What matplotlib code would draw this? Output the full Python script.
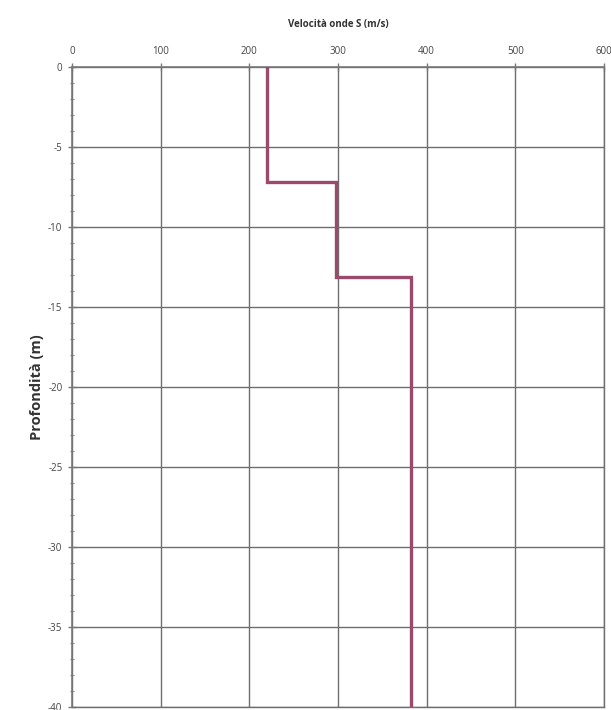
import matplotlib
matplotlib.use('Agg')
import matplotlib.pyplot as plt
from matplotlib.ticker import MultipleLocator

# profilo Vs a gradini
vs = [220, 220, 298, 298, 382, 382]
depth = [0, -7.2, -7.2, -13.1, -13.1, -40]

x_ticks = [0, 100, 200, 300, 400, 500, 600]
y_ticks = [0, -5, -10, -15, -20, -25, -30, -35, -40]

plt.rcParams['font.family'] = ['Open Sans', 'DejaVu Sans']

fig = plt.figure(figsize=(6.11, 7.10), dpi=100)
ax = fig.add_axes([0.118, 0.0042, 0.8705, 0.9014])

ax.plot(vs, depth, color='#9c4a6c', linewidth=2.4, solid_joinstyle='miter', zorder=3)

ax.set_xlim(0, 600)
ax.set_ylim(-40, 0)
ax.set_xticks(x_ticks)
ax.set_yticks(y_ticks)
ax.yaxis.set_minor_locator(MultipleLocator(1))
ax.xaxis.tick_top()
ax.xaxis.set_label_position('top')
ax.set_xticklabels([str(v) for v in x_ticks])
ax.set_yticklabels([str(v) for v in y_ticks])
ax.tick_params(axis='both', which='major', direction='inout', length=6, width=1,
               color='#777777', labelsize=7, labelcolor='#444444', pad=4)
ax.tick_params(axis='y', which='minor', direction='inout', length=3, width=0.8,
               color='#888888')

ax.grid(True, which='major', color='#6e6e6e', linewidth=1)
for side in ['right', 'bottom']:
    ax.spines[side].set_color('#6e6e6e')
    ax.spines[side].set_linewidth(1)
for side in ['top', 'left']:
    ax.spines[side].set_color('#777777')
    ax.spines[side].set_linewidth(1.2)

ax.set_xlabel('Velocità onde S (m/s)', fontsize=7, fontweight='bold', color='#333333', labelpad=14)
ax.set_ylabel('Profondità (m)', fontsize=10.5, fontweight='bold', color='#333333', labelpad=3)

plt.savefig('out.png', dpi=100)
